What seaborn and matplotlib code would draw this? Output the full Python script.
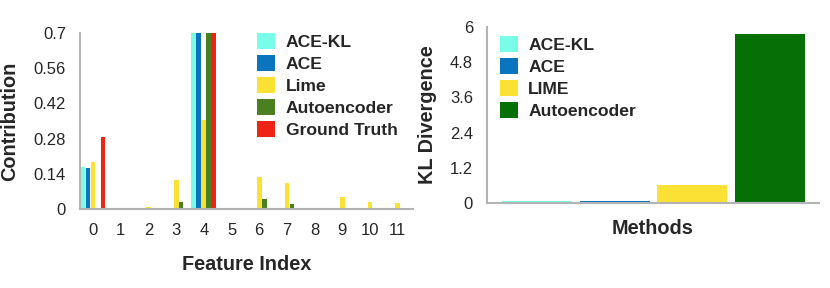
import pandas as pd
import matplotlib.pyplot as plt
import seaborn as sns

# datos
features = list(range(12))
ace_kl = [0.169, 0, 0, 0, 0.7, 0, 0, 0, 0, 0, 0, 0]
ace = [0.163, 0, 0, 0, 0.7, 0, 0, 0, 0, 0, 0, 0]
lime = [0.185, 0.004, 0.008, 0.116, 0.355, 0, 0.126, 0.104, 0.004, 0.046, 0.028, 0.025]
autoencoder = [0, 0, 0, 0.028, 0.7, 0, 0.040, 0.020, 0, 0, 0, 0]
ground_truth = [0.286, 0, 0, 0, 0.7, 0, 0, 0, 0, 0, 0, 0]
left_methods = ["ACE-KL", "ACE", "Lime", "Autoencoder", "Ground Truth"]
left_colors = ["#79fce8", "#0a74bf", "#fbe134", "#4a7f22", "#ee2414"]
left_yticks = [0, 0.14, 0.28, 0.42, 0.56, 0.7]
left_yticklabels = ["0", "0.14", "0.28", "0.42", "0.56", "0.7"]

kl_methods = ["ACE-KL", "ACE", "LIME", "Autoencoder"]
kl_values = [0.06, 0.07, 0.6, 5.75]
kl_colors = ["#79fce8", "#0a74bf", "#fbe134", "#067006"]
kl_yticks = [0, 1.2, 2.4, 3.6, 4.8, 6]
kl_yticklabels = ["0", "1.2", "2.4", "3.6", "4.8", "6"]

sns.set_style("white")
plt.rcParams["font.family"] = ["Liberation Sans", "DejaVu Sans"]

rows = []
for m, vals in zip(left_methods, [ace_kl, ace, lime, autoencoder, ground_truth]):
    for f, v in zip(features, vals):
        rows.append({"feature": f, "value": v, "method": m})
df = pd.DataFrame(rows)

fig = plt.figure(figsize=(8.3, 2.88), dpi=100)
ax1 = fig.add_axes([80 / 830, 1 - 209 / 288, 333 / 830, 176 / 288])
ax2 = fig.add_axes([487 / 830, 1 - 203 / 288, 332 / 830, 176 / 288])

spine_col = "#b3b3b3"
tick_fs = 12
label_fs = 14.3
legend_fs = 12.6

# Gráfica 1: contribución por feature
sns.barplot(data=df, x="feature", y="value", hue="method", palette=left_colors,
            width=0.9, gap=0.05, saturation=1, ax=ax1, edgecolor="none")
ax1.set_ylim(0, 0.7)
ax1.set_xlim(-0.47, 11.55)
ax1.set_yticks(left_yticks)
ax1.set_yticklabels(left_yticklabels, fontsize=tick_fs)
ax1.set_xticks(features)
ax1.set_xticklabels([str(f) for f in features], fontsize=tick_fs)
ax1.tick_params(axis="both", length=0)
ax1.tick_params(axis="y", pad=10)
ax1.tick_params(axis="x", pad=10)
ax1.set_ylabel("Contribution", fontsize=label_fs, fontweight="bold")
ax1.set_xlabel("Feature Index", fontsize=label_fs, fontweight="bold")
ax1.yaxis.set_label_coords(-0.21, 0.5)
ax1.xaxis.set_label_coords(0.5, -0.318)
ax1.xaxis.label.set_va("center")
ax1.yaxis.label.set_va("center")
ax1.legend(loc="upper left", bbox_to_anchor=(0.5315, 1.0), frameon=False,
           prop={"size": legend_fs, "weight": "bold"}, handlelength=1.03,
           handleheight=1.03, handletextpad=0.63, labelspacing=0.29,
           borderpad=0, borderaxespad=0)

# Gráfica 2: divergencia KL
sns.barplot(x=kl_methods, y=kl_values, hue=kl_methods, palette=kl_colors,
            width=0.9, saturation=1, ax=ax2, edgecolor="none", legend=True)
ax2.set_ylim(0, 6)
ax2.set_xlim(-0.64, 3.63)
ax2.set_yticks(kl_yticks)
ax2.set_yticklabels(kl_yticklabels, fontsize=tick_fs)
ax2.set_xticks([])
ax2.tick_params(axis="both", length=0)
ax2.tick_params(axis="y", pad=10)
ax2.set_ylabel("KL Divergence", fontsize=label_fs, fontweight="bold")
ax2.set_xlabel("Methods", fontsize=label_fs, fontweight="bold")
ax2.yaxis.set_label_coords(-0.178, 0.5)
ax2.xaxis.set_label_coords(0.5, -0.145)
ax2.xaxis.label.set_va("center")
ax2.yaxis.label.set_va("center")
ax2.legend(loc="upper left", bbox_to_anchor=(0.039, 0.9506), frameon=False,
           prop={"size": legend_fs, "weight": "bold"}, handlelength=1.03,
           handleheight=1.03, handletextpad=0.58, labelspacing=0.3,
           borderpad=0, borderaxespad=0)

for ax in (ax1, ax2):
    sns.despine(ax=ax)
    for s in ("left", "bottom"):
        ax.spines[s].set_color(spine_col)
        ax.spines[s].set_linewidth(1.5)

fig.savefig("out.png", dpi=100)
plt.close(fig)
